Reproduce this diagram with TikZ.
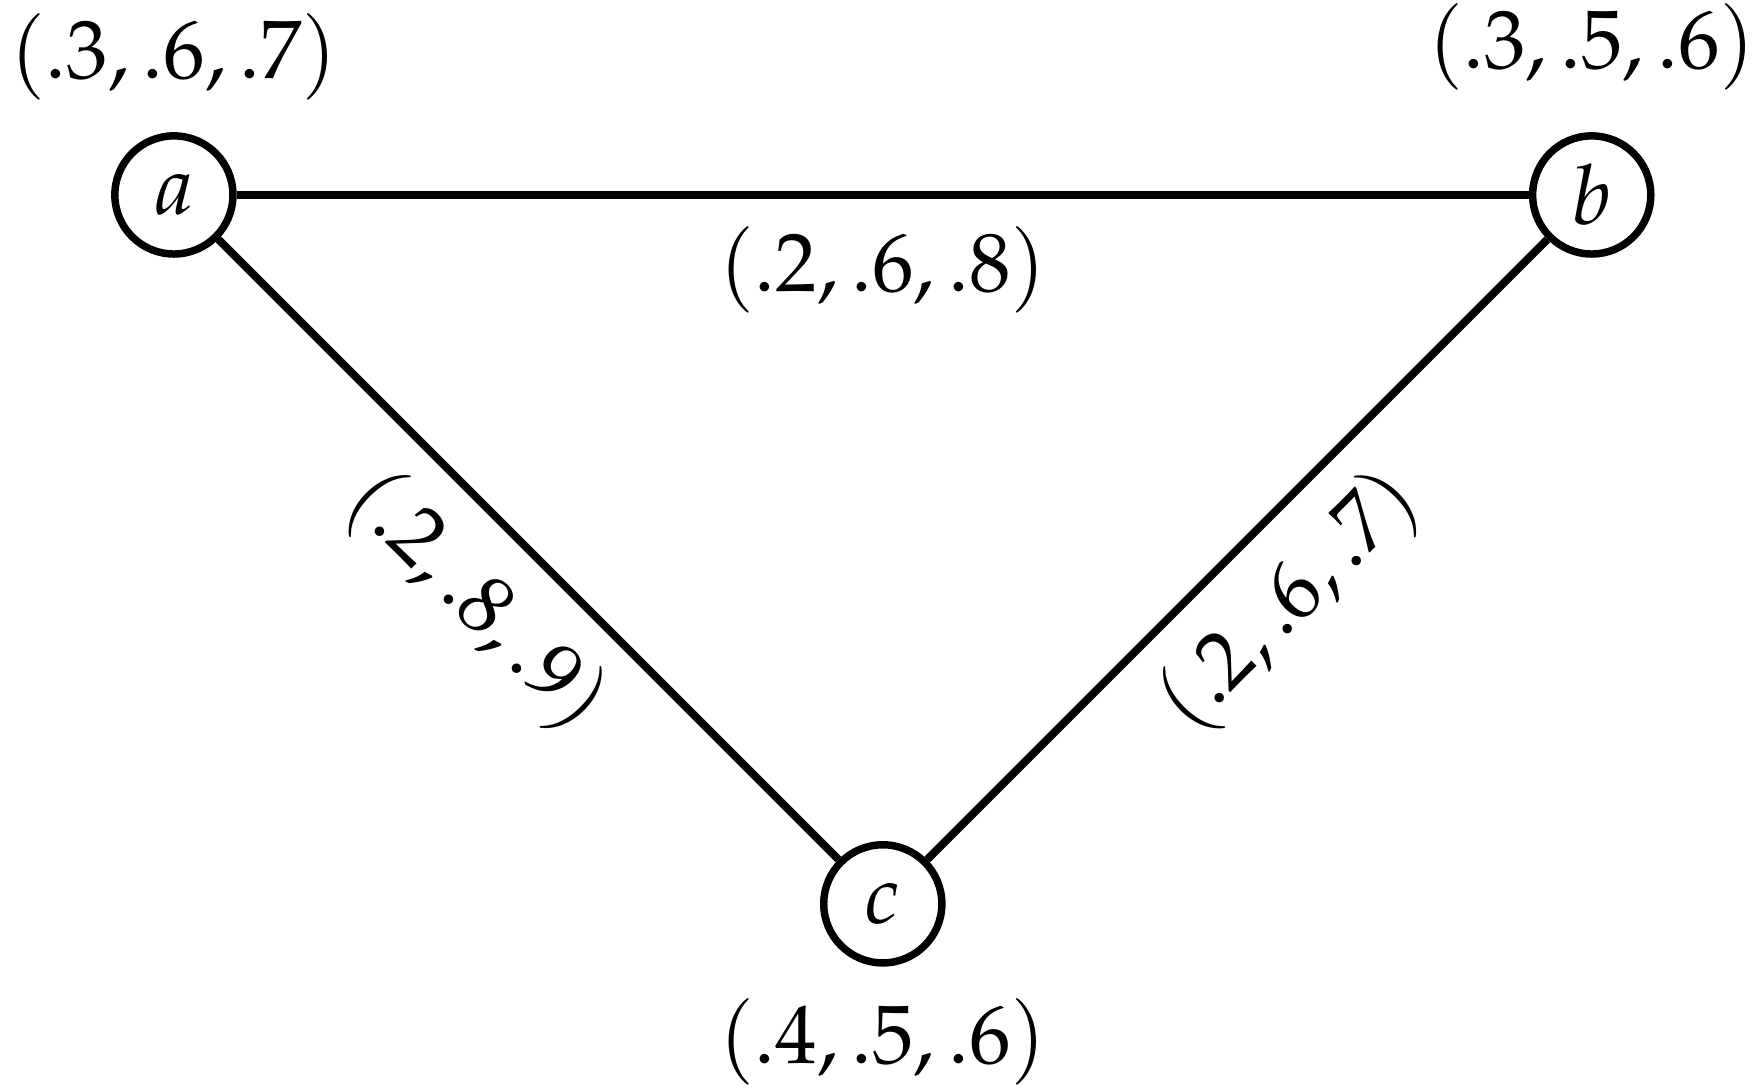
\documentclass[tikz,border=0pt]{standalone}
\usepackage{amsmath}
\usepackage{mathpazo}
\usetikzlibrary{positioning}
\tikzset{
    vertex/.style={
    circle,draw=black,line width=0.9pt,minimum size=5mm,inner sep=0pt
    },
}

\begin{document}
\begin{tikzpicture}[line width=0.95pt]
   \useasboundingbox (-0.736,-3.783) rectangle (6.729,0.825);
   \node[vertex,label=above:{$(.3,.6,.7)$}] (a) at (0,0) {$a$};
   \node[vertex,label={[label distance=1.2pt]above:{$(.3,.5,.6)$}}] (b) at (6,0) {$b$};
   \node[vertex,label=below:{$(.4,.5,.6)$}] (c) at (3,-3) {$c$};

  \path
    (a) edge node [below] {$(.2,.6,.8)$} (b)
    (a) edge node [below,sloped] {$(.2,.8,.9)$} (c)
    (c) edge node [below,sloped] {$(.2,.6,.7)$} (b);
\end{tikzpicture}
\end{document}
